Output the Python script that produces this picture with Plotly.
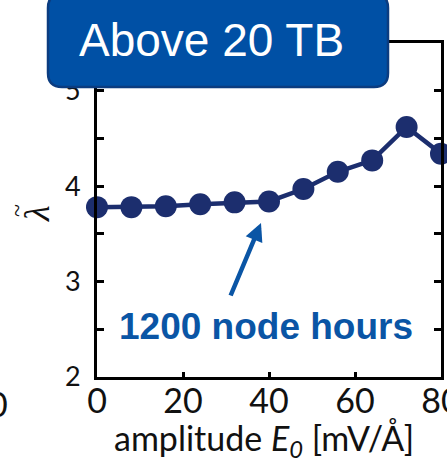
import plotly.graph_objects as go

# ---- data ----
amplitude = [0, 8, 16, 24, 32, 40, 48, 56, 64, 72, 80]
lambda_tilde = [3.78, 3.78, 3.79, 3.81, 3.83, 3.84, 3.97, 4.15, 4.27, 4.62, 4.34]
x_ticks = [0, 20, 40, 60, 80]
y_ticks = [2, 2.5, 3, 3.5, 4, 4.5, 5, 5.5]
y_ticklabels = ["2", " ", "3", " ", "4", " ", "5", " "]

NAVY = "#1c2e6e"
BLUE = "#0a55a5"

fig = go.Figure()
fig.add_trace(go.Scatter(
    x=amplitude, y=lambda_tilde, mode="lines+markers",
    line=dict(color=NAVY, width=4.5),
    marker=dict(color=NAVY, size=22),
    cliponaxis=False, showlegend=False,
))

W, H = 447, 462
L, R, T, B = 97, 6, 43, 85
pw, ph = W - L - R, H - T - B

def px(x):
    return (x - L) / pw

def py(y):
    return (H - B - y) / ph

def note(x, y, text, **kw):
    fig.add_annotation(x=px(x), y=py(y), xref="paper", yref="paper",
                       xanchor="center", yanchor="middle", text=text, **kw)

# rounded box path (paper coords)
x0, x1, y0, y1, r = 48, 388, -6, 87, 14
path = (f"M {px(x0 + r)},{py(y0)} L {px(x1 - r)},{py(y0)} "
        f"Q {px(x1)},{py(y0)} {px(x1)},{py(y0 + r)} "
        f"L {px(x1)},{py(y1 - r)} Q {px(x1)},{py(y1)} {px(x1 - r)},{py(y1)} "
        f"L {px(x0 + r)},{py(y1)} Q {px(x0)},{py(y1)} {px(x0)},{py(y1 - r)} "
        f"L {px(x0)},{py(y0 + r)} Q {px(x0)},{py(y0)} {px(x0 + r)},{py(y0)} Z")
fig.add_shape(type="path", path=path, xref="paper", yref="paper",
              fillcolor="#0050a5", line=dict(color="#0b3c80", width=2.5),
              layer="above")

note(211, 40, "Above 20 TB", showarrow=False,
     font=dict(family="Liberation Sans", size=46, color="white"))

note(266, 326, "<b>1200 node hours</b>", showarrow=False,
     font=dict(family="Liberation Sans", size=37, color=BLUE))

fig.add_annotation(x=px(261), y=py(223), xref="paper", yref="paper",
                   text="", showarrow=True, ax=-31, ay=74,
                   arrowhead=2, arrowsize=0.8, arrowwidth=4.5, arrowcolor=BLUE)

note(37, 214, "<i>λ</i>", showarrow=False, textangle=-90,
     font=dict(family="Liberation Serif", size=36, color="#111111"))
note(17, 211, "~", showarrow=False, textangle=-90,
     font=dict(family="Liberation Serif", size=24, color="#111111"))

note(264, 440, "amplitude <i>E<sub>0</sub></i> [mV/Å]", showarrow=False,
     font=dict(family="Lato", size=34, color="#111111"))

note(-2, 403, "0", showarrow=False,
     font=dict(family="Lato", size=34, color="#111111"))

fig.update_layout(
    width=W, height=H,
    margin=dict(l=L, r=R, t=T, b=B),
    plot_bgcolor="white", paper_bgcolor="white",
    xaxis=dict(range=[0, 80], tickvals=x_ticks, ticks="inside", ticklen=5,
               tickwidth=2.5, tickcolor="black", showline=True, linewidth=3,
               linecolor="black", mirror="ticks", showgrid=False, zeroline=False,
               tickfont=dict(family="Lato", size=34, color="#111111"),
               ticklabelstandoff=-8, ticklabeloverflow="allow", automargin=False),
    yaxis=dict(range=[2, 5.5], tickvals=y_ticks, ticktext=y_ticklabels,
               ticks="inside", ticklen=7, tickwidth=2.5, tickcolor="black",
               showline=True, linewidth=3, linecolor="black", mirror="ticks",
               showgrid=False, zeroline=False, automargin=False,
               tickfont=dict(family="Lato", size=27, color="#111111"),
               ticklabelstandoff=8),
)

fig.write_html("out.html")
